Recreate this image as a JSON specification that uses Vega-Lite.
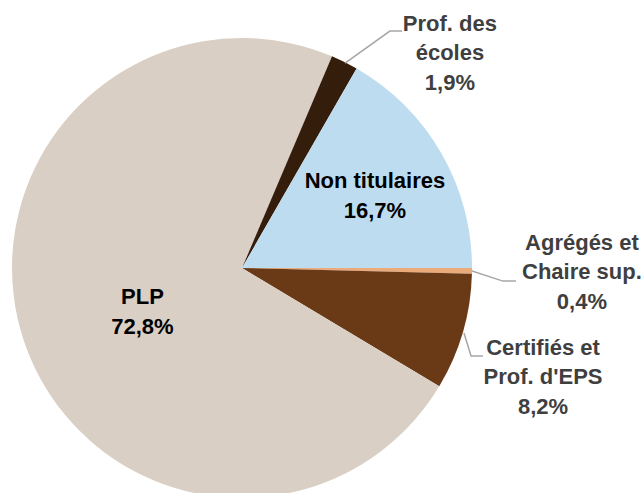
{
  "$schema": "https://vega.github.io/schema/vega-lite/v6.json",
  "width": 484,
  "height": 536,
  "autosize": "none",
  "padding": {"left": 0, "top": 0, "right": 160, "bottom": 0},
  "background": "white",
  "config": {"view": {"stroke": null}},
  "resolve": {"scale": {"color": "independent"}},
  "layer": [
    {
      "data": {"values": [
        {"cat": "Agrégés et Chaire sup.", "value": 0.4, "order": 1},
        {"cat": "Certifiés et Prof. d'EPS", "value": 8.2, "order": 2},
        {"cat": "PLP", "value": 72.8, "order": 3},
        {"cat": "Prof. des écoles", "value": 1.9, "order": 4},
        {"cat": "Non titulaires", "value": 16.7, "order": 5}
      ]},
      "mark": {"type": "arc", "outerRadius": 230},
      "encoding": {
        "theta": {"field": "value", "type": "quantitative", "stack": true, "scale": {"range": [1.5708, 7.854]}},
        "order": {"field": "order", "type": "quantitative"},
        "color": {"field": "cat", "type": "nominal", "legend": null,
          "scale": {"domain": ["Agrégés et Chaire sup.", "Certifiés et Prof. d'EPS", "PLP", "Prof. des écoles", "Non titulaires"],
                    "range": ["#EAAA7A", "#6A3A17", "#D9CFC5", "#351D0C", "#BEDCF0"]}}
      }
    },
    {
      "data": {"values": [
        {"id": "prof", "k": 1, "x": 0.448, "y": 0.891},
        {"id": "prof", "k": 2, "x": 0.643, "y": 1.030},
        {"id": "prof", "k": 3, "x": 0.696, "y": 1.030},
        {"id": "agr", "k": 1, "x": 1.0, "y": -0.013},
        {"id": "agr", "k": 2, "x": 1.135, "y": -0.057},
        {"id": "agr", "k": 3, "x": 1.191, "y": -0.057},
        {"id": "cert", "k": 1, "x": 0.965, "y": -0.283},
        {"id": "cert", "k": 2, "x": 0.996, "y": -0.383},
        {"id": "cert", "k": 3, "x": 1.048, "y": -0.383}
      ]},
      "mark": {"type": "line", "color": "#A6A6A6", "strokeWidth": 1.5, "clip": false},
      "encoding": {
        "x": {"field": "x", "type": "quantitative", "scale": {"domain": [-1.0522, 1.0522], "nice": false, "zero": false}, "axis": null},
        "y": {"field": "y", "type": "quantitative", "scale": {"domain": [-1.1652, 1.1652], "nice": false, "zero": false}, "axis": null},
        "detail": {"field": "id", "type": "nominal"},
        "order": {"field": "k", "type": "quantitative"}
      }
    },
    {
      "data": {"values": [
        {"label": "Prof. des\nécoles\n1,9%", "place": "outside", "x": 0.904, "y": 1.061},
        {"label": "Non titulaires\n16,7%", "place": "inside", "x": 0.578, "y": 0.378},
        {"label": "Agrégés et\nChaire sup.\n0,4%", "place": "outside", "x": 1.478, "y": 0.109},
        {"label": "Certifiés et\nProf. d'EPS\n8,2%", "place": "outside", "x": 1.309, "y": -0.346},
        {"label": "PLP\n72,8%", "place": "inside", "x": -0.433, "y": -0.128}
      ]},
      "mark": {"type": "text", "font": "Liberation Sans", "fontWeight": "bold", "fontSize": 22, "lineBreak": "\n", "lineHeight": 29.5, "align": "center", "baseline": "middle", "clip": false},
      "encoding": {
        "x": {"field": "x", "type": "quantitative", "scale": {"domain": [-1.0522, 1.0522], "nice": false, "zero": false}, "axis": null},
        "y": {"field": "y", "type": "quantitative", "scale": {"domain": [-1.1652, 1.1652], "nice": false, "zero": false}, "axis": null},
        "text": {"field": "label", "type": "nominal"},
        "color": {"field": "place", "type": "nominal", "legend": null, "scale": {"domain": ["inside", "outside"], "range": ["#000000", "#3F3F3F"]}}
      }
    }
  ]
}
